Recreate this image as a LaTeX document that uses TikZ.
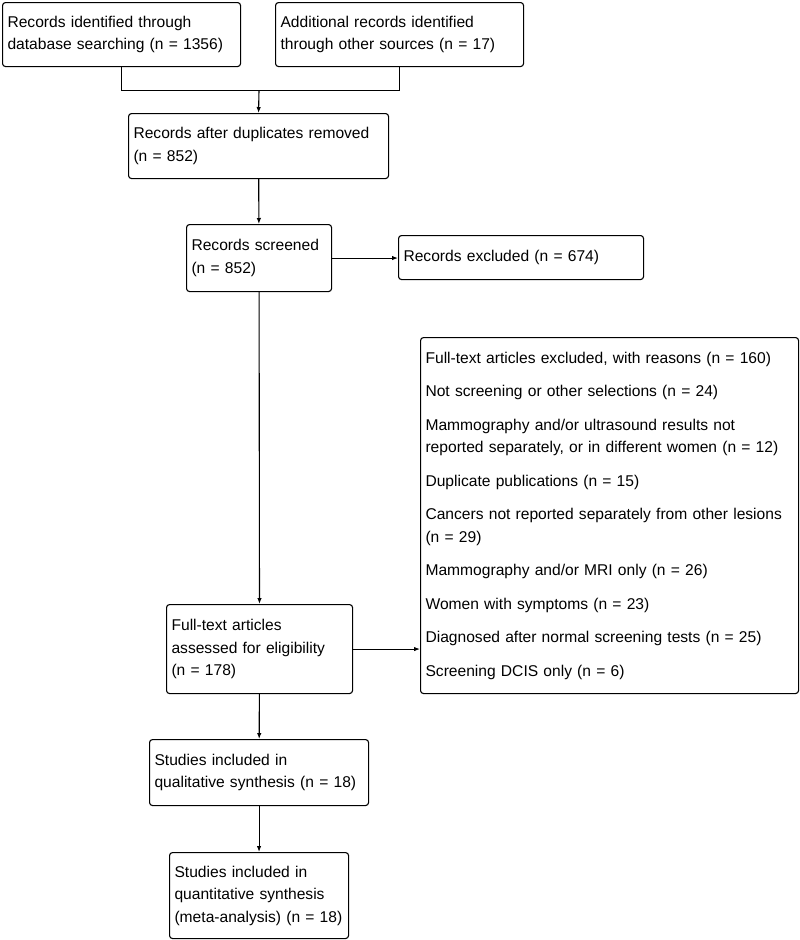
\documentclass[tikz,border=0pt]{standalone}
\usepackage{fontspec}
\setmainfont{Liberation Sans}
\usepackage{tikz}
\usetikzlibrary{arrows.meta}

\begin{document}
\begin{tikzpicture}[x=1pt, y=-1pt, line width=1.1pt,
  every node/.style={draw, rounded corners=3pt, anchor=north west, align=left, inner xsep=5pt, inner ysep=0pt, font=\fontsize{15.6}{22.5}\selectfont},
  arr/.style={-{Latex[length=6pt, width=4.5pt]}}]
  \useasboundingbox (0,0) rectangle (800,940);
  \node (db) [text width=228pt, minimum height=64pt] at (2,2) {Records identified through\\database searching (n = 1356)};
  \node (other) [text width=238pt, minimum height=64pt] at (275,2) {Additional records identified\\through other sources (n = 17)};
  \node (dup) [text width=250pt, minimum height=65pt] at (128,113) {Records after duplicates removed\\(n = 852)};
  \node (screen) [text width=135pt, minimum height=67pt] at (186,224) {Records screened\\(n = 852)};
  \node (excl) [text width=235pt, minimum height=44pt] at (398,235) {Records excluded (n = 674)};
  \node (full) [text width=176pt, minimum height=89pt] at (166,604) {Full-text articles\\assessed for eligibility\\(n = 178)};
  \node (reasons) [text width=368pt, minimum height=356pt] at (420,337) {Full-text articles excluded, with reasons (n = 160)\\[11pt]
    Not screening or other selections (n = 24)\\[11pt]
    Mammography and/or ultrasound results not\\reported separately, or in different women (n = 12)\\[11pt]
    Duplicate publications (n = 15)\\[11pt]
    Cancers not reported separately from other lesions\\(n = 29)\\[11pt]
    Mammography and/or MRI only (n = 26)\\[11pt]
    Women with symptoms (n = 23)\\[11pt]
    Diagnosed after normal screening tests (n = 25)\\[11pt]
    Screening DCIS only (n = 6)};
  \node (qual) [text width=209pt, minimum height=66pt] at (149,739) {Studies included in\\qualitative synthesis (n = 18)};
  \node (quant) [text width=169pt, minimum height=86pt] at (169,852) {Studies included in\\quantitative synthesis\\(meta-analysis) (n = 18)};
  \coordinate (join) at (259,90.5);
  \draw (db.south) |- (join) -| (other.south);
  \draw [arr] (join) -- (dup.north);
  \draw [arr] (dup) -- (screen);
  \draw [arr] (screen) -- (excl.west |- screen.east);
  \draw [arr] (screen) -- (full);
  \draw [arr] (full) -- (reasons.west |- full.east);
  \draw [arr] (full) -- (qual);
  \draw [arr] (qual) -- (quant);
\end{tikzpicture}
\end{document}
